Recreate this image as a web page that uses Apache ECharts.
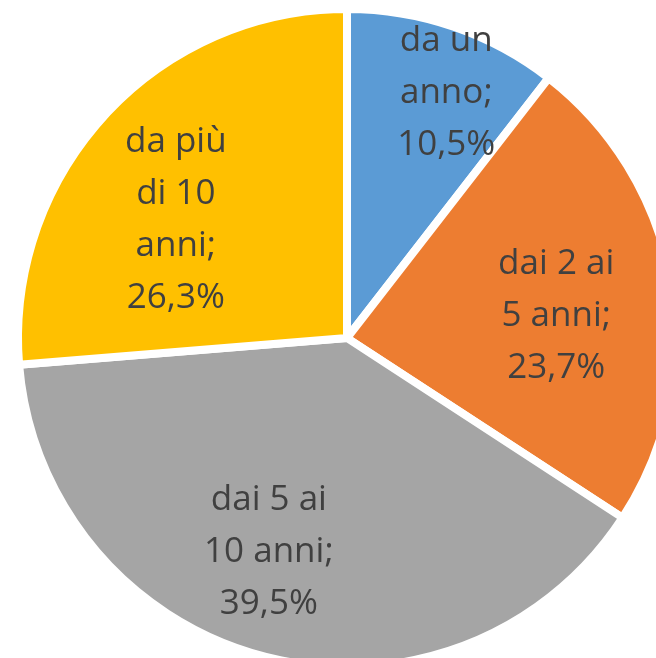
<!DOCTYPE html>
<html>
<head>
<meta charset="utf-8">
<script src="https://cdn.jsdelivr.net/npm/echarts@6/dist/echarts.min.js"></script>
<style>
  html, body { margin: 0; padding: 0; background: #fff; }
  #chart { width: 656px; height: 658px; }
</style>
</head>
<body>
<div id="chart"></div>
<script>
const categories = ['da un\nanno', 'dai 2 ai\n5 anni', 'dai 5 ai\n10 anni', 'da più\ndi 10\nanni'];
const shares = [10.5, 23.7, 39.5, 26.3];
const sliceColors = ['#5B9BD5', '#ED7D31', '#A5A5A5', '#FFC000'];
// label nudges from the default inside spot, to sit where Excel put them
const labelOffsets = [[45, -86], [44, 6], [-37, 52], [-48, -4]];

const myChart = echarts.init(document.getElementById('chart'));

const option = {
  animation: false,
  series: [
    {
      type: 'pie',
      center: [347, 338],
      radius: 329,
      startAngle: 90,
      clockwise: true,
      avoidLabelOverlap: false,
      itemStyle: {
        borderColor: '#ffffff',
        borderWidth: 8,
      },
      label: {
        show: true,
        position: 'inside',
        color: '#404040',
        fontFamily: 'Open Sans',
        fontSize: 35,
        lineHeight: 52,
        align: 'center',
        formatter: (p) => p.name + ';\n' + p.value.toFixed(1).replace('.', ',') + '%',
      },
      labelLine: { show: false },
      data: categories.map((name, i) => ({
        name,
        value: shares[i],
        itemStyle: { color: sliceColors[i] },
        label: { offset: labelOffsets[i] },
      })),
    },
  ],
};

myChart.setOption(option);
</script>
</body>
</html>
